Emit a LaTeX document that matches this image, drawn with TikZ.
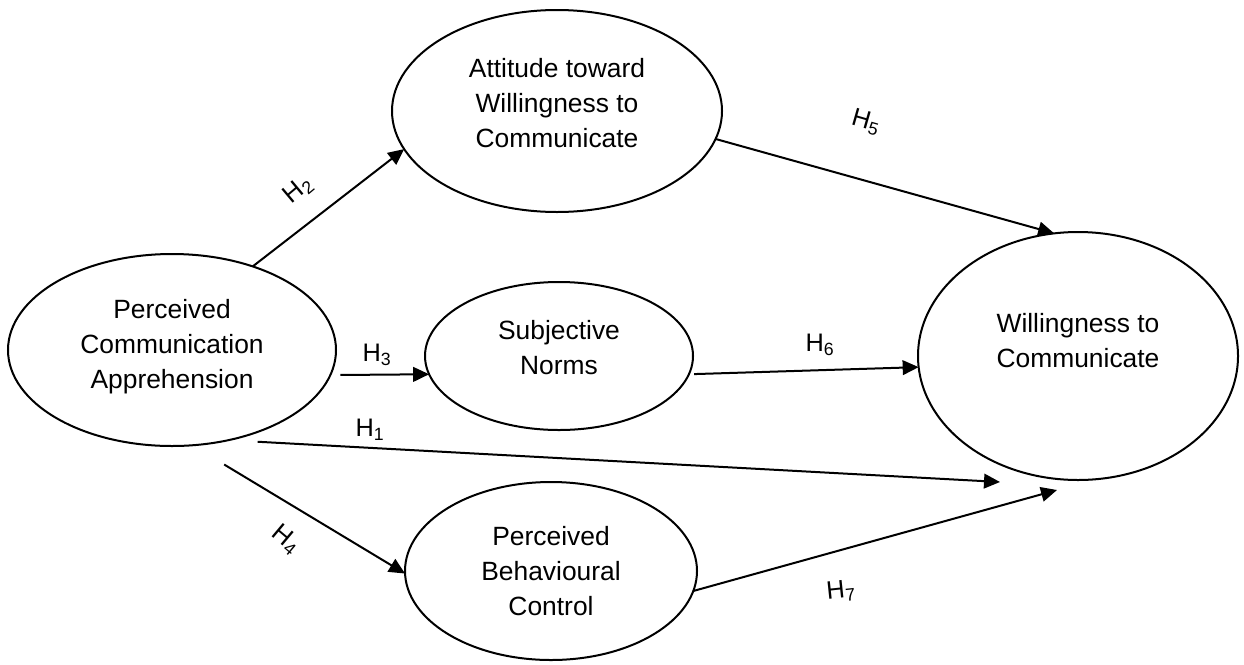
\documentclass[tikz,border=0pt]{standalone}
\usepackage{fontspec}
\setmainfont{Liberation Sans}
\usetikzlibrary{shapes.geometric,arrows.meta}

\tikzset{every picture/.style={line width=1.5pt}}
\tikzset{
  ellip/.style={draw, ellipse, inner sep=0pt, outer sep=0pt},
  etext/.style={align=center, inner sep=0.75pt, font=\fontsize{19.8}{26.25}\selectfont},
  hlabel/.style={inner sep=0.75pt, font=\fontsize{19}{22}\selectfont},
  link/.style={-{Triangle[length=12pt,width=11pt]}}
}

\begin{document}
\begin{tikzpicture}[x=0.75pt,y=0.75pt,yscale=-1,xscale=1]
\useasboundingbox (0,0) rectangle (1244,664);

%Shape: Ellipse [pca]
\node [ellip, minimum width=246pt, minimum height=144pt] (pca) at (172,350) {};
%Shape: Ellipse [att]
\node [ellip, minimum width=247.5pt, minimum height=151.5pt] (att) at (557,111) {};
%Shape: Ellipse [sn]
\node [ellip, minimum width=201pt, minimum height=111pt] (sn) at (559,356) {};
%Shape: Ellipse [pbc]
\node [ellip, minimum width=219pt, minimum height=133.5pt] (pbc) at (551,571) {};
%Shape: Ellipse [wtc]
\node [ellip, minimum width=240pt, minimum height=186pt] (wtc) at (1078,356) {};

% free arrow ends
\coordinate (h1tip) at (1000,482);
\coordinate (h7tip) at (1057,490);

%Straight Lines [H2]
\draw [link] (pca.46) -- (att.194);
%Straight Lines [H5]
\draw [link] (att.-10) -- (wtc.101);
%Straight Lines [H3]
\draw [link, shorten <=7.5pt] (pca.-9) -- (sn.188);
%Straight Lines [H6]
\draw [link, shorten <=4pt] (sn.-8) -- (wtc.184);
%Straight Lines [H1]
\draw [link, shorten <=22pt] (pca.-58) -- (h1tip);
%Straight Lines [H4]
\draw [link, shorten <=28pt] (pca.-78) -- (pbc.181);
%Straight Lines [H7]
\draw [link] (pbc.-8) -- (h7tip);

% Text Node
\node [etext] (pca-t) at (172,347) {Perceived\\Communication\\Apprehension};
% Text Node
\node [etext] (att-t) at (557,103) {Attitude toward\\Willingness to\\Communicate};
% Text Node
\node [etext] (sn-t) at (559,348) {Subjective\\Norms};
% Text Node
\node [etext] (pbc-t) at (551,571) {Perceived\\Behavioural\\Control};
% Text Node
\node [etext] (wtc-t) at (1078,341) {Willingness to\\Communicate};

% Text Node
\node [hlabel, rotate=40] (h2) at (298,190) {H\textsubscript{2}};
% Text Node
\node [hlabel, rotate=-16] (h5) at (866,122) {H\textsubscript{5}};
% Text Node
\node [hlabel] (h3) at (377,355) {H\textsubscript{3}};
% Text Node
\node [hlabel] (h6) at (820,345) {H\textsubscript{6}};
% Text Node
\node [hlabel] (h1) at (370,430) {H\textsubscript{1}};
% Text Node
\node [hlabel, rotate=-40] (h4) at (286,540) {H\textsubscript{4}};
% Text Node
\node [hlabel, rotate=6] (h7) at (841,591) {H\textsubscript{7}};

\end{tikzpicture}
\end{document}
